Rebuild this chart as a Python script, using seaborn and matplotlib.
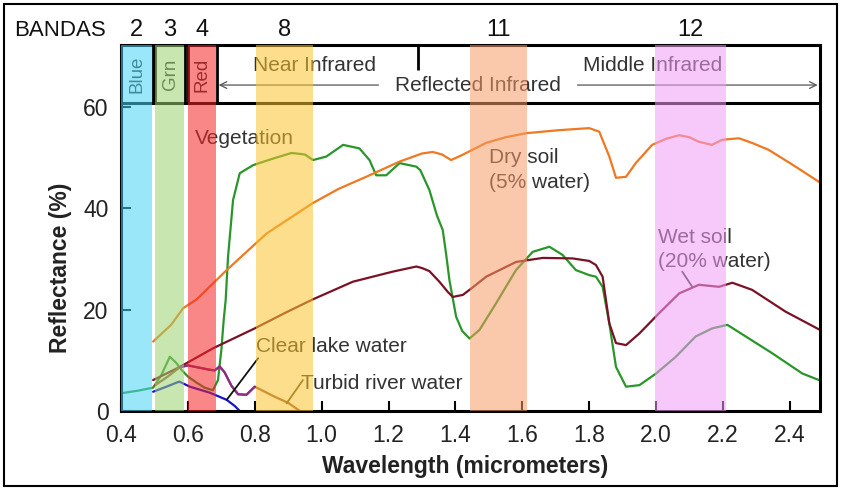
import matplotlib
matplotlib.use("Agg")
import matplotlib.pyplot as plt
import seaborn as sns
from matplotlib.patches import Rectangle

# ---------------- data ----------------
veg_x = [0.40, 0.45, 0.496, 0.52, 0.546, 0.565, 0.581, 0.60, 0.626, 0.65, 0.675, 0.69, 0.70,
         0.707, 0.713, 0.72, 0.735, 0.755, 0.795, 0.855, 0.91, 0.95, 0.974, 1.014, 1.064,
         1.113, 1.143, 1.163, 1.193, 1.233, 1.283, 1.295, 1.322, 1.345, 1.362, 1.372, 1.382,
         1.402, 1.42, 1.442, 1.472, 1.521, 1.581, 1.631, 1.681, 1.72, 1.76, 1.80, 1.82, 1.84,
         1.86, 1.88, 1.91, 1.95, 2.0, 2.059, 2.118, 2.168, 2.213, 2.268, 2.347, 2.437, 2.487, 2.5]
veg_y = [3.5, 4.0, 4.6, 7.0, 10.7, 9.5, 8.1, 6.8, 5.6, 4.6, 4.1, 6.1, 12.0,
         17.9, 21.9, 30.4, 41.6, 46.9, 48.5, 49.8, 50.9, 50.6, 49.5, 50.2, 52.5,
         51.8, 49.5, 46.5, 46.5, 48.9, 48.2, 47.5, 43.6, 38.5, 35.7, 31.0, 25.8,
         18.6, 15.8, 14.3, 16.0, 21.2, 27.8, 31.4, 32.4, 30.8, 27.8, 26.8, 26.5, 24.5,
         17.3, 8.7, 4.8, 5.1, 7.4, 10.7, 14.7, 16.3, 17.0, 14.7, 11.4, 7.4, 6.1, 6.1]

dry_x = [0.496, 0.55, 0.586, 0.626, 0.716, 0.835, 0.973, 1.05, 1.133, 1.233, 1.30, 1.332, 1.36,
         1.387, 1.42, 1.492, 1.55, 1.611, 1.71, 1.80, 1.83, 1.86, 1.88, 1.91, 1.939, 1.988,
         2.03, 2.069, 2.10, 2.128, 2.167, 2.197, 2.248, 2.29, 2.337, 2.417, 2.487, 2.5]
dry_y = [13.7, 17.0, 20.3, 22.0, 27.8, 35.0, 41.0, 43.8, 46.2, 49.2, 50.8, 51.1, 50.6,
         49.5, 50.5, 52.9, 54.0, 54.8, 55.4, 55.8, 55.1, 50.2, 46.0, 46.2, 48.9, 52.5,
         53.7, 54.4, 54.0, 53.1, 52.5, 53.5, 53.8, 52.8, 51.5, 48.2, 45.2, 44.8]

wet_x = [0.496, 0.576, 0.676, 0.80, 0.895, 0.973, 1.093, 1.213, 1.283, 1.30, 1.322, 1.352, 1.377,
         1.392, 1.422, 1.45, 1.492, 1.581, 1.661, 1.75, 1.80, 1.82, 1.84, 1.86, 1.88, 1.91,
         1.95, 2.009, 2.069, 2.128, 2.188, 2.228, 2.287, 2.387, 2.487, 2.5]
wet_y = [6.1, 8.7, 12.4, 16.3, 19.5, 22.0, 25.5, 27.5, 28.5, 28.2, 27.6, 25.5, 23.5,
         22.5, 22.9, 24.3, 26.5, 29.4, 30.2, 30.1, 29.6, 28.8, 26.5, 17.3, 13.4, 13.0,
         15.3, 19.3, 23.2, 24.9, 24.5, 25.3, 23.9, 19.6, 16.1, 16.0]

lake_x = [0.496, 0.536, 0.574, 0.606, 0.666, 0.716, 0.74, 0.755]
lake_y = [3.8, 4.8, 5.8, 4.8, 3.6, 2.2, 1.0, 0.0]

turbid_x = [0.50, 0.54, 0.575, 0.60, 0.63, 0.66, 0.68, 0.695, 0.71, 0.73, 0.75, 0.775, 0.80,
            0.83, 0.86, 0.90, 0.935]
turbid_y = [5.0, 6.8, 8.6, 9.0, 8.6, 8.2, 8.0, 8.8, 7.6, 5.0, 3.3, 3.2, 4.8,
            3.8, 2.8, 1.6, 0.0]

band_names = ["2", "3", "4", "8", "11", "12"]
band_lo = [0.40, 0.502, 0.599, 0.803, 1.445, 1.997]
band_hi = [0.494, 0.588, 0.684, 0.973, 1.615, 2.209]
band_colors = ["#49D5F6", "#9BD26E", "#F62525", "#FAC32E", "#F69B64", "#F29BF6"]

x_ticks = [0.4, 0.6, 0.8, 1.0, 1.2, 1.4, 1.6, 1.8, 2.0, 2.2, 2.4]
y_ticks = [0, 20, 40, 60]

# ---------------- figure ----------------
sns.set_theme(style="white")
plt.rcParams['font.family'] = ['Liberation Sans', 'DejaVu Sans']

fig = plt.figure(figsize=(8.41, 4.90), dpi=100)
ax = fig.add_axes([121 / 841, 1 - 411 / 490, 699 / 841, 366 / 490])
ax.set_facecolor("white")

YTOP = 72.2
HDR = 60.7
ax.set_xlim(0.4, 2.49)
ax.set_ylim(0, YTOP)

lw = 1.6
sns.lineplot(x=veg_x, y=veg_y, color="#2A962A", lw=lw, ax=ax, estimator=None, sort=False)
sns.lineplot(x=dry_x, y=dry_y, color="#F07820", lw=lw, ax=ax, estimator=None, sort=False)
sns.lineplot(x=wet_x, y=wet_y, color="#7A1226", lw=lw, ax=ax, estimator=None, sort=False)
sns.lineplot(x=lake_x, y=lake_y, color="#1414D0", lw=lw, ax=ax, estimator=None, sort=False)
sns.lineplot(x=turbid_x, y=turbid_y, color="#9A5530", lw=lw, ax=ax, estimator=None, sort=False)
tp_x = [x for x in turbid_x if 0.575 <= x <= 0.80]
tp_y = [y for x, y in zip(turbid_x, turbid_y) if 0.575 <= x <= 0.80]
sns.lineplot(x=tp_x, y=tp_y, color="#8B2C8B", lw=lw, ax=ax, estimator=None, sort=False)

# header box
ax.axhline(HDR, color="black", lw=2.2, zorder=3)
ax.vlines([0.4965, 0.5015, 0.591, 0.599, 0.6857], HDR, YTOP, color="black", lw=2.0, zorder=3)
ax.vlines([1.287], 67.3, YTOP, color="black", lw=2.0, zorder=3)

txtc = "#333333"
hfs = 15
ax.text(0.448, 66.4, "Blue", rotation=90, ha="center", va="center", fontsize=13.5, color=txtc)
ax.text(0.547, 66.4, "Grn", rotation=90, ha="center", va="center", fontsize=13.5, color=txtc)
ax.text(0.642, 66.4, "Red", rotation=90, ha="center", va="center", fontsize=13.5, color=txtc)
ax.text(0.98, 68.2, "Near Infrared", ha="center", va="center", fontsize=hfs, color=txtc)
ax.text(1.99, 68.2, "Middle Infrared", ha="center", va="center", fontsize=hfs, color=txtc)
ax.text(1.466, 64.2, "Reflected Infrared", ha="center", va="center", fontsize=hfs, color=txtc)
ax.annotate("", xy=(0.692, 64.3), xytext=(1.17, 64.3),
            arrowprops=dict(arrowstyle="->", lw=0.9, color="#555555", shrinkA=0, shrinkB=0))
ax.annotate("", xy=(2.483, 64.3), xytext=(1.765, 64.3),
            arrowprops=dict(arrowstyle="->", lw=0.9, color="#555555", shrinkA=0, shrinkB=0))

# curve labels
lfs = 15
ax.text(0.62, 53.8, "Vegetation", ha="left", va="center", fontsize=lfs, color=txtc)
ax.text(1.50, 50.0, "Dry soil", ha="left", va="center", fontsize=lfs, color=txtc)
ax.text(1.50, 45.0, "(5% water)", ha="left", va="center", fontsize=lfs, color=txtc)
ax.text(2.006, 34.3, "Wet soil", ha="left", va="center", fontsize=lfs, color=txtc)
ax.text(2.006, 29.4, "(20% water)", ha="left", va="center", fontsize=lfs, color=txtc)
ax.text(0.805, 12.7, "Clear lake water", ha="left", va="center", fontsize=lfs, color=txtc)
ax.text(0.939, 5.4, "Turbid river water", ha="left", va="center", fontsize=lfs, color=txtc)
ax.plot([2.078, 2.108], [27.5, 24.5], color="#333333", lw=1.3)
ax.plot([0.81, 0.716], [10.4, 2.2], color="#111111", lw=1.3)
ax.plot([0.944, 0.895], [6.1, 1.5], color="#5a4a20", lw=1.3)

# band overlays
for lo, hi, c, n in zip(band_lo, band_hi, band_colors, band_names):
    ax.axvspan(lo, hi, color=c, alpha=0.55, lw=0, zorder=5)
    ax.text((lo + hi) / 2, 75.1, n, ha="center", va="center", fontsize=17,
            color="#111111", clip_on=False)
fig.text(60 / 841, 1 - 31 / 490, "BANDAS", ha="center", va="center", fontsize=16, color="#111111")

# axes styling
for s in ax.spines.values():
    s.set_color("black")
    s.set_linewidth(2.2)
ax.set_xticks(x_ticks)
ax.set_xticklabels([f"{v:.1f}" for v in x_ticks])
ax.set_yticks(y_ticks)
ax.set_yticklabels([str(v) for v in y_ticks])
ax.tick_params(axis="both", direction="in", length=7, width=1.5, labelsize=16.5,
               bottom=True, left=True, top=False, right=False, colors="black")
ax.tick_params(axis="x", labelcolor="#222222", pad=9.5)
ax.tick_params(axis="y", labelcolor="#222222", pad=9)
ax.set_xlabel("Wavelength (micrometers)", fontsize=16.5, fontweight="bold", color="#222222")
ax.set_ylabel("Reflectance (%)", fontsize=16.5, fontweight="bold", color="#222222")
ax.xaxis.set_label_coords(0.492, -0.12)
ax.yaxis.set_label_coords(-0.07, 0.39)

fig.patches.append(Rectangle((0.005, 0.008), 0.99, 0.984, transform=fig.transFigure,
                             fill=False, lw=1.5, ec="black"))

fig.savefig("out.png", dpi=100)
